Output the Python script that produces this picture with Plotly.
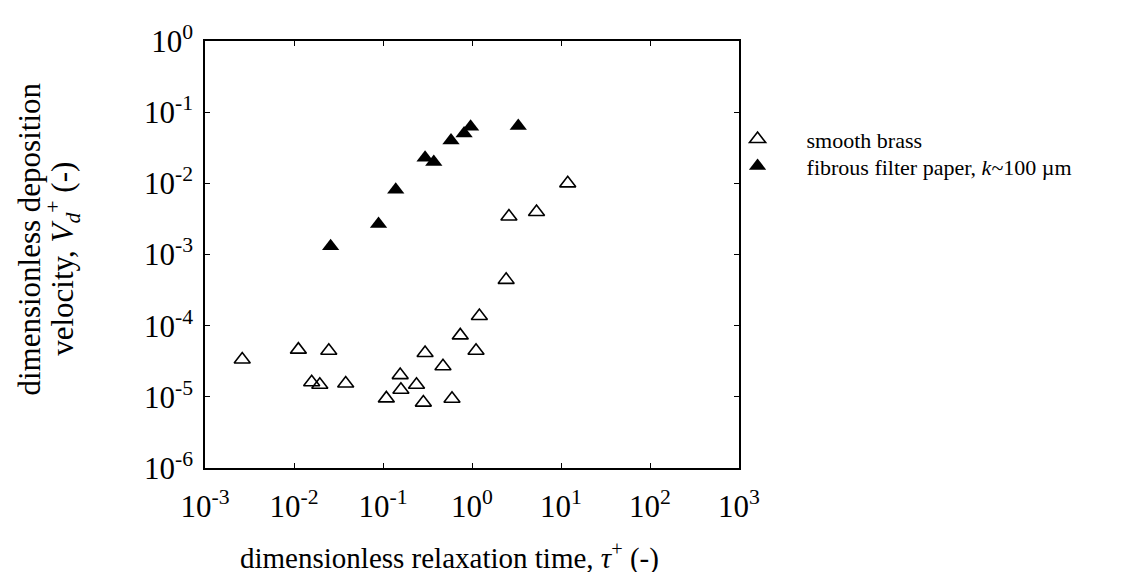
import plotly.graph_objects as go

# smooth brass (open triangles)
brass_tau = [0.00262, 0.0112, 0.0246, 0.0158, 0.0195, 0.0381, 0.109, 0.156, 0.159,
             0.238, 0.284, 0.297, 0.472, 0.596, 0.738, 1.11, 1.21, 2.42, 2.60, 5.31, 11.9]
brass_vd = [3.35e-5, 4.6e-5, 4.45e-5, 1.6e-5, 1.48e-5, 1.54e-5, 9.5e-6, 2.02e-5, 1.26e-5,
            1.48e-5, 8.3e-6, 4.13e-5, 2.69e-5, 9.4e-6, 7.3e-5, 4.44e-5, 1.37e-4, 4.4e-4,
            3.42e-3, 3.96e-3, 1.0e-2]

# fibrous filter paper (filled triangles)
paper_tau = [0.0258, 0.0891, 0.139, 0.297, 0.372, 0.581, 0.815, 0.965, 3.31]
paper_vd = [1.31e-3, 2.69e-3, 8.1e-3, 2.29e-2, 2.0e-2, 4.01e-2, 5.0e-2, 6.24e-2, 6.37e-2]

x_tickvals = [1e-3, 1e-2, 1e-1, 1e0, 1e1, 1e2, 1e3]
x_ticktext = ["10<sup>-3</sup>", "10<sup>-2</sup>", "10<sup>-1</sup>", "10<sup>0</sup>",
              "10<sup>1</sup>", "10<sup>2</sup>", "10<sup>3</sup>"]
y_tickvals = [1e-6, 1e-5, 1e-4, 1e-3, 1e-2, 1e-1, 1e0]
y_ticktext = ["10<sup>-6</sup>", "10<sup>-5</sup>", "10<sup>-4</sup>", "10<sup>-3</sup>",
              "10<sup>-2</sup>", "10<sup>-1</sup>", "10<sup>0</sup>"]

FONT = "Liberation Serif"

fig = go.Figure()
fig.add_trace(go.Scatter(
    x=brass_tau, y=brass_vd, mode="markers", name="smooth brass", legend="legend",
    showlegend=True,
    marker=dict(symbol="triangle-up-open", size=14, color="black", line=dict(width=1.6, color="black")),
))
fig.add_trace(go.Scatter(
    x=paper_tau, y=paper_vd, mode="markers", legend="legend2", showlegend=True,
    name="fibrous filter paper, <i>k</i>~100 \u00b5m",
    marker=dict(symbol="triangle-up", size=15, color="black"),
))

axis_common = dict(
    type="log", showgrid=False, zeroline=False, showline=True, linecolor="black", linewidth=1.5,
    mirror="ticks", ticks="inside", ticklen=5, tickwidth=1.2, tickcolor="black",
    tickfont=dict(family=FONT, size=31, color="black"),
)
fig.update_xaxes(range=[-3, 3], tickvals=x_tickvals, ticktext=x_ticktext, ticklabelstandoff=10, **axis_common)
fig.update_yaxes(range=[-6, 0], tickvals=y_tickvals, ticktext=y_ticktext, ticklabelstandoff=4, **axis_common)

fig.add_annotation(
    text="dimensionless relaxation time, <i>\u03c4</i><sup>+</sup> (-)",
    xref="paper", yref="paper", x=0.458, y=0, yshift=-88, xanchor="center", yanchor="middle",
    showarrow=False, font=dict(family=FONT, size=29, color="black"),
)
fig.add_annotation(
    text="dimensionless deposition",
    xref="paper", yref="paper", x=0, y=0.535, xshift=-175, xanchor="center", yanchor="middle",
    textangle=-90, showarrow=False, font=dict(family=FONT, size=31, color="black"),
)
fig.add_annotation(
    text="velocity, <i>V<sub>d</sub></i><sup>+</sup> (-)",
    xref="paper", yref="paper", x=0, y=0.49, xshift=-142, xanchor="center", yanchor="middle",
    textangle=-90, showarrow=False, font=dict(family=FONT, size=31, color="black"),
)

leg_common = dict(xanchor="left", yanchor="middle", bgcolor="rgba(0,0,0,0)",
                  itemwidth=88, font=dict(family=FONT, size=22, color="black"))
fig.update_layout(
    width=1138, height=572,
    margin=dict(l=197, r=407, t=23, b=112),
    paper_bgcolor="white", plot_bgcolor="white",
    font=dict(family=FONT, size=22, color="black"),
    showlegend=True,
    legend=dict(x=0.943, y=0.770, visible=True, **leg_common),
    legend2=dict(x=0.943, y=0.707, visible=True, **leg_common),
)

fig.write_html("out.html")
